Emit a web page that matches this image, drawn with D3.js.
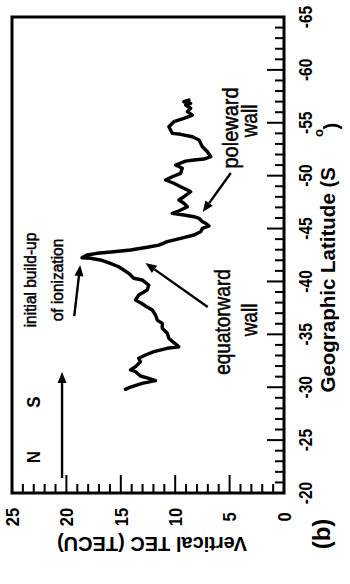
<!DOCTYPE html>
<html><head><meta charset="utf-8">
<script src="https://cdn.jsdelivr.net/npm/d3@7/dist/d3.min.js"></script>
<style>
html,body{margin:0;padding:0;background:#fff;}
svg{display:block;font-family:"Liberation Sans",Arial,Helvetica,sans-serif;}
</style></head>
<body>
<svg id="chart" width="350" height="584"></svg>
<script>
// ---- data (latitude in degrees, vertical TEC in TECU), in trace order ----
const latitude = [-29.80,-30.02,-30.37,-30.62,-30.84,-31.06,-31.47,-31.63,-31.94,-32.41,-32.73,-33.05,-33.36,-33.68,-33.83,-34.21,-34.62,-35.10,-35.57,-36.04,-36.35,-36.83,-37.30,-37.68,-37.99,-38.25,-38.72,-39.19,-39.66,-40.14,-40.30,-40.77,-41.08,-41.39,-41.71,-42.03,-42.19,-42.24,-42.50,-42.66,-42.81,-42.97,-43.23,-43.44,-43.76,-44.08,-44.39,-44.70,-45.02,-45.24,-45.50,-45.65,-45.97,-46.12,-46.28,-46.44,-46.59,-47.07,-47.39,-47.70,-48.01,-48.48,-48.64,-48.96,-49.28,-49.59,-49.90,-50.22,-50.70,-51.01,-51.38,-51.48,-51.57,-51.79,-52.26,-52.74,-53.37,-53.68,-53.91,-54.00,-54.63,-55.10,-55.42,-55.73,-56.05,-56.37,-56.68,-56.84,-56.99,-57.15];
const tec = [14.58,14.11,13.04,11.81,12.43,13.19,13.65,14.11,13.65,13.19,13.35,12.73,11.96,10.73,9.66,10.12,10.58,10.73,11.19,11.19,11.65,11.81,12.11,12.73,13.19,13.65,13.35,12.57,12.43,13.04,13.81,14.27,14.73,15.19,15.96,16.88,17.80,18.57,18.11,17.19,15.65,14.11,12.57,11.50,10.73,9.50,8.27,7.66,7.50,6.89,7.20,7.50,7.81,8.27,9.20,10.27,9.81,8.88,9.20,9.66,9.20,8.58,8.88,9.50,10.12,10.89,10.27,9.50,9.35,9.96,9.04,8.27,7.35,6.73,7.04,7.50,7.81,8.42,9.50,10.27,10.58,10.12,9.20,8.42,8.88,8.58,9.04,8.58,9.20,8.74];

const latTicks = [-20,-25,-30,-35,-40,-45,-50,-55,-60,-65];
const latMinor = d3.range(-20,-65.5,-1);
const tecTicks = [0,5,10,15,20,25];
const tecMinor = d3.range(0,25.5,1);
const latDomain = [-20,-65];
const tecDomain = [0,25];

// annotation arrows, in data coordinates [tec, lat] from tail to head
const arrows = [
  {from:[20.4,-21.42], to:[20.4,-31.44]},
  {from:[19.28,-36.73], to:[18.73,-41.55]},
  {from:[7.01,-37.58], to:[12.73,-41.74]},
  {from:[4.89,-50.25], to:[7.47,-46.56]}
];

// ---- layout: the figure is rotated 90° counter-clockwise ----
const svg = d3.select("#chart");
const X0 = 12, X1 = 284, Y0 = 17, Y1 = 493;
const x = d3.scaleLinear().domain(tecDomain).range([X1, X0]);   // TEC -> screen x
const y = d3.scaleLinear().domain(latDomain).range([Y1, Y0]);   // latitude -> screen y

// tick marks
const isMajor = d => Math.abs(Math.round(d)) % 5 === 0;
svg.append("g").selectAll("line").data(latMinor).join("line")
  .attr("x1",X1).attr("x2",d=>X1-(isMajor(d)?17:9))
  .attr("y1",d=>y(d)).attr("y2",d=>y(d))
  .attr("stroke","#000").attr("stroke-width",2);
svg.append("g").selectAll("line").data(tecMinor).join("line")
  .attr("y1",Y1).attr("y2",d=>Y1-(isMajor(d)?18:9))
  .attr("x1",d=>x(d)).attr("x2",d=>x(d))
  .attr("stroke","#000").attr("stroke-width",2);

// frame
svg.append("path")
  .attr("d",`M${X0},${Y1}L${X0},${Y0}L${X1},${Y0}L${X1},${Y1}Z`)
  .attr("fill","none").attr("stroke","#000").attr("stroke-width",3);

// tick labels (rotated)
svg.append("g").selectAll("text").data(latTicks).join("text")
  .attr("transform",d=>`translate(306,${y(d)}) rotate(-90) scale(1,1.15)`)
  .attr("text-anchor","middle").attr("dy","0.36em")
  .attr("font-size",15.5).attr("font-weight","bold")
  .text(d=>d);
svg.append("g").selectAll("text").data(tecTicks).join("text")
  .attr("transform",d=>`translate(${x(d)},517) rotate(-90) scale(1,1.15)`)
  .attr("text-anchor","middle").attr("dy","0.36em")
  .attr("font-size",16.5).attr("font-weight","bold")
  .text(d=>d);

// axis titles
svg.append("text").attr("transform","translate(328,167) rotate(-90)")
  .attr("text-anchor","end").attr("dy","0.36em")
  .attr("font-size",20.5).attr("font-weight","bold")
  .text("Geographic Latitude (S");
svg.append("text").attr("transform","translate(318,133) rotate(-90)")
  .attr("text-anchor","middle").attr("dy","0.36em")
  .attr("font-size",13).attr("font-weight","bold").text("o");
svg.append("text").attr("transform","translate(331,126) rotate(-90)")
  .attr("text-anchor","middle").attr("dy","0.36em")
  .attr("font-size",20.5).attr("font-weight","bold").text(")");
svg.append("text").attr("transform","translate(152,544) rotate(180)")
  .attr("text-anchor","middle").attr("dy","0.36em")
  .attr("font-size",20).attr("font-weight","bold")
  .text("Vertical TEC (TECU)");
svg.append("text").attr("transform","translate(321,534) rotate(-90)")
  .attr("text-anchor","middle").attr("dy","0.36em")
  .attr("font-size",24).attr("font-weight","bold").text("(b)");

// annotations
const ann = [
  {t:"initial build-up", cx:30, cy:280, fs:15.5, w:"normal"},
  {t:"of ionization", cx:57, cy:280, fs:15.5, w:"normal"},
  {t:"N", cx:34, cy:457, fs:17, w:"bold"},
  {t:"S", cx:34, cy:402, fs:17, w:"bold"},
  {t:"equatorward", cx:223, cy:322, fs:19, w:"normal"},
  {t:"wall", cx:250, cy:320, fs:19, w:"normal"},
  {t:"poleward", cx:231, cy:128, fs:20, w:"normal"},
  {t:"wall", cx:250, cy:121, fs:19, w:"normal"}
];
svg.append("g").selectAll("text").data(ann).join("text")
  .attr("transform",d=>`translate(${d.cx},${d.cy}) rotate(-90) scale(1,1.12)`)
  .attr("text-anchor","middle").attr("dy","0.33em")
  .attr("font-size",d=>d.fs).attr("font-weight",d=>d.w)
  .attr("stroke",d=>d.w==="normal"?"#000":"none").attr("stroke-width",0.45)
  .text(d=>d.t);

// arrows
const ag = svg.append("g");
arrows.forEach(a=>{
  const x1=x(a.from[0]), y1=y(a.from[1]), x2=x(a.to[0]), y2=y(a.to[1]);
  const ang=Math.atan2(y2-y1,x2-x1), L=11, W=4.5;
  const bx=x2-L*Math.cos(ang), by=y2-L*Math.sin(ang);
  ag.append("line").attr("x1",x1).attr("y1",y1).attr("x2",bx).attr("y2",by)
    .attr("stroke","#000").attr("stroke-width",2.4);
  ag.append("path")
    .attr("d",`M${x2},${y2}L${bx+W*Math.sin(ang)},${by-W*Math.cos(ang)}L${bx-W*Math.sin(ang)},${by+W*Math.cos(ang)}Z`)
    .attr("fill","#000");
});

// TEC trace
const pts = latitude.map((l,i)=>[tec[i],l]);
svg.append("path").datum(pts)
  .attr("d",d3.line().x(d=>x(d[0])).y(d=>y(d[1])))
  .attr("fill","none").attr("stroke","#000").attr("stroke-width",3.4)
  .attr("stroke-linejoin","round").attr("stroke-linecap","round");
</script>
</body></html>
